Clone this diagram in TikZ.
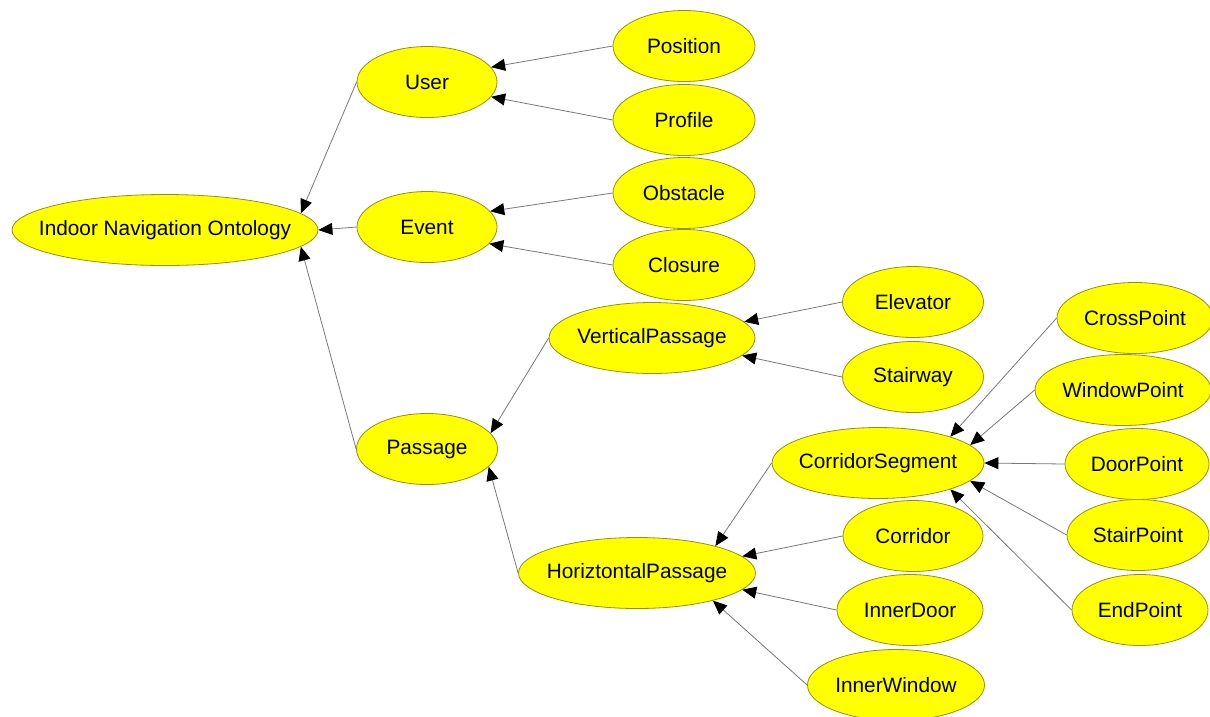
\documentclass[tikz,border=0pt]{standalone}
\usepackage{fontspec}
\setmainfont{Liberation Sans}
\usetikzlibrary{shapes.geometric,arrows.meta}
\definecolor{conceptfill}{RGB}{255,255,0}
\definecolor{conceptline}{RGB}{150,140,30}
\definecolor{edgegray}{RGB}{120,120,120}
% class label of zero width, so the ellipse keeps its given size
\newcommand{\cname}[1]{\makebox[0pt]{#1}}
\begin{document}
\begin{tikzpicture}[x=1pt,y=-1pt,
  concept/.style={ellipse,draw=conceptline,line width=0.8pt,fill=conceptfill,
    inner sep=0pt,minimum height=71pt,font=\fontsize{20.8}{24}\selectfont},
  isa/.style={draw=edgegray,line width=0.8pt,
    -{Triangle[length=14pt,width=12pt,fill=black,color=black]}}]
\useasboundingbox (0,0) rectangle (1210,716);

% class nodes
\node[concept,minimum width=306pt] (root) at (165,230) {\cname{Indoor Navigation Ontology}};
\node[concept,minimum width=140pt] (user) at (427,82) {\cname{User}};
\node[concept,minimum width=140pt] (event) at (427,227) {\cname{Event}};
\node[concept,minimum width=141pt] (passage) at (427,449) {\cname{Passage}};
\node[concept,minimum width=142pt] (position) at (684,46) {\cname{Position}};
\node[concept,minimum width=142pt] (profile) at (684,120) {\cname{Profile}};
\node[concept,minimum width=142pt] (obstacle) at (684,193) {\cname{Obstacle}};
\node[concept,minimum width=142pt] (closure) at (684,265) {\cname{Closure}};
\node[concept,minimum width=206pt] (vp) at (652,338) {\cname{VerticalPassage}};
\node[concept,minimum width=237pt] (hp) at (637,573) {\cname{HoriztontalPassage}};
\node[concept,minimum width=141pt] (elevator) at (913,302) {\cname{Elevator}};
\node[concept,minimum width=141pt] (stairway) at (913,377) {\cname{Stairway}};
\node[concept,minimum width=212pt] (cs) at (878,463) {\cname{CorridorSegment}};
\node[concept,minimum width=140pt] (corridor) at (913,536) {\cname{Corridor}};
\node[concept,minimum width=146pt] (innerdoor) at (910,610) {\cname{InnerDoor}};
\node[concept,minimum width=177pt] (innerwindow) at (896,685) {\cname{InnerWindow}};
\node[concept,minimum width=156pt] (crosspoint) at (1135,318) {\cname{CrossPoint}};
\node[concept,minimum width=176pt] (windowpoint) at (1123,390) {\cname{WindowPoint}};
\node[concept,minimum width=144pt] (doorpoint) at (1137,464) {\cname{DoorPoint}};
\node[concept,minimum width=142pt] (stairpoint) at (1138,535) {\cname{StairPoint}};
\node[concept,minimum width=136pt] (endpoint) at (1140,610) {\cname{EndPoint}};

% subclass links
\draw[isa] (user.west) -- (root.7);
\draw[isa] (event.west) -- (root.east);
\draw[isa] (passage.west) -- (root.-7);
\draw[isa] (position.west) -- (user.13);
\draw[isa] (profile.west) -- (user.-13);
\draw[isa] (obstacle.west) -- (event.14);
\draw[isa] (closure.west) -- (event.-15);
\draw[isa] (vp.west) -- (passage.14);
\draw[isa] (hp.west) -- (passage.-16);
\draw[isa] (elevator.west) -- (vp.10);
\draw[isa] (stairway.west) -- (vp.-11);
\draw[isa] (cs.west) -- (hp.19);
\draw[isa] (corridor.west) -- (hp.9);
\draw[isa] (innerdoor.west) -- (hp.-9);
\draw[isa] (innerwindow.west) -- (hp.-20);
\draw[isa] (crosspoint.west) -- (cs.20);
\draw[isa] (windowpoint.west) -- (cs.11);
\draw[isa] (doorpoint.west) -- (cs.east);
\draw[isa] (stairpoint.west) -- (cs.-11);
\draw[isa] (endpoint.west) -- (cs.-20);
\end{tikzpicture}
\end{document}
